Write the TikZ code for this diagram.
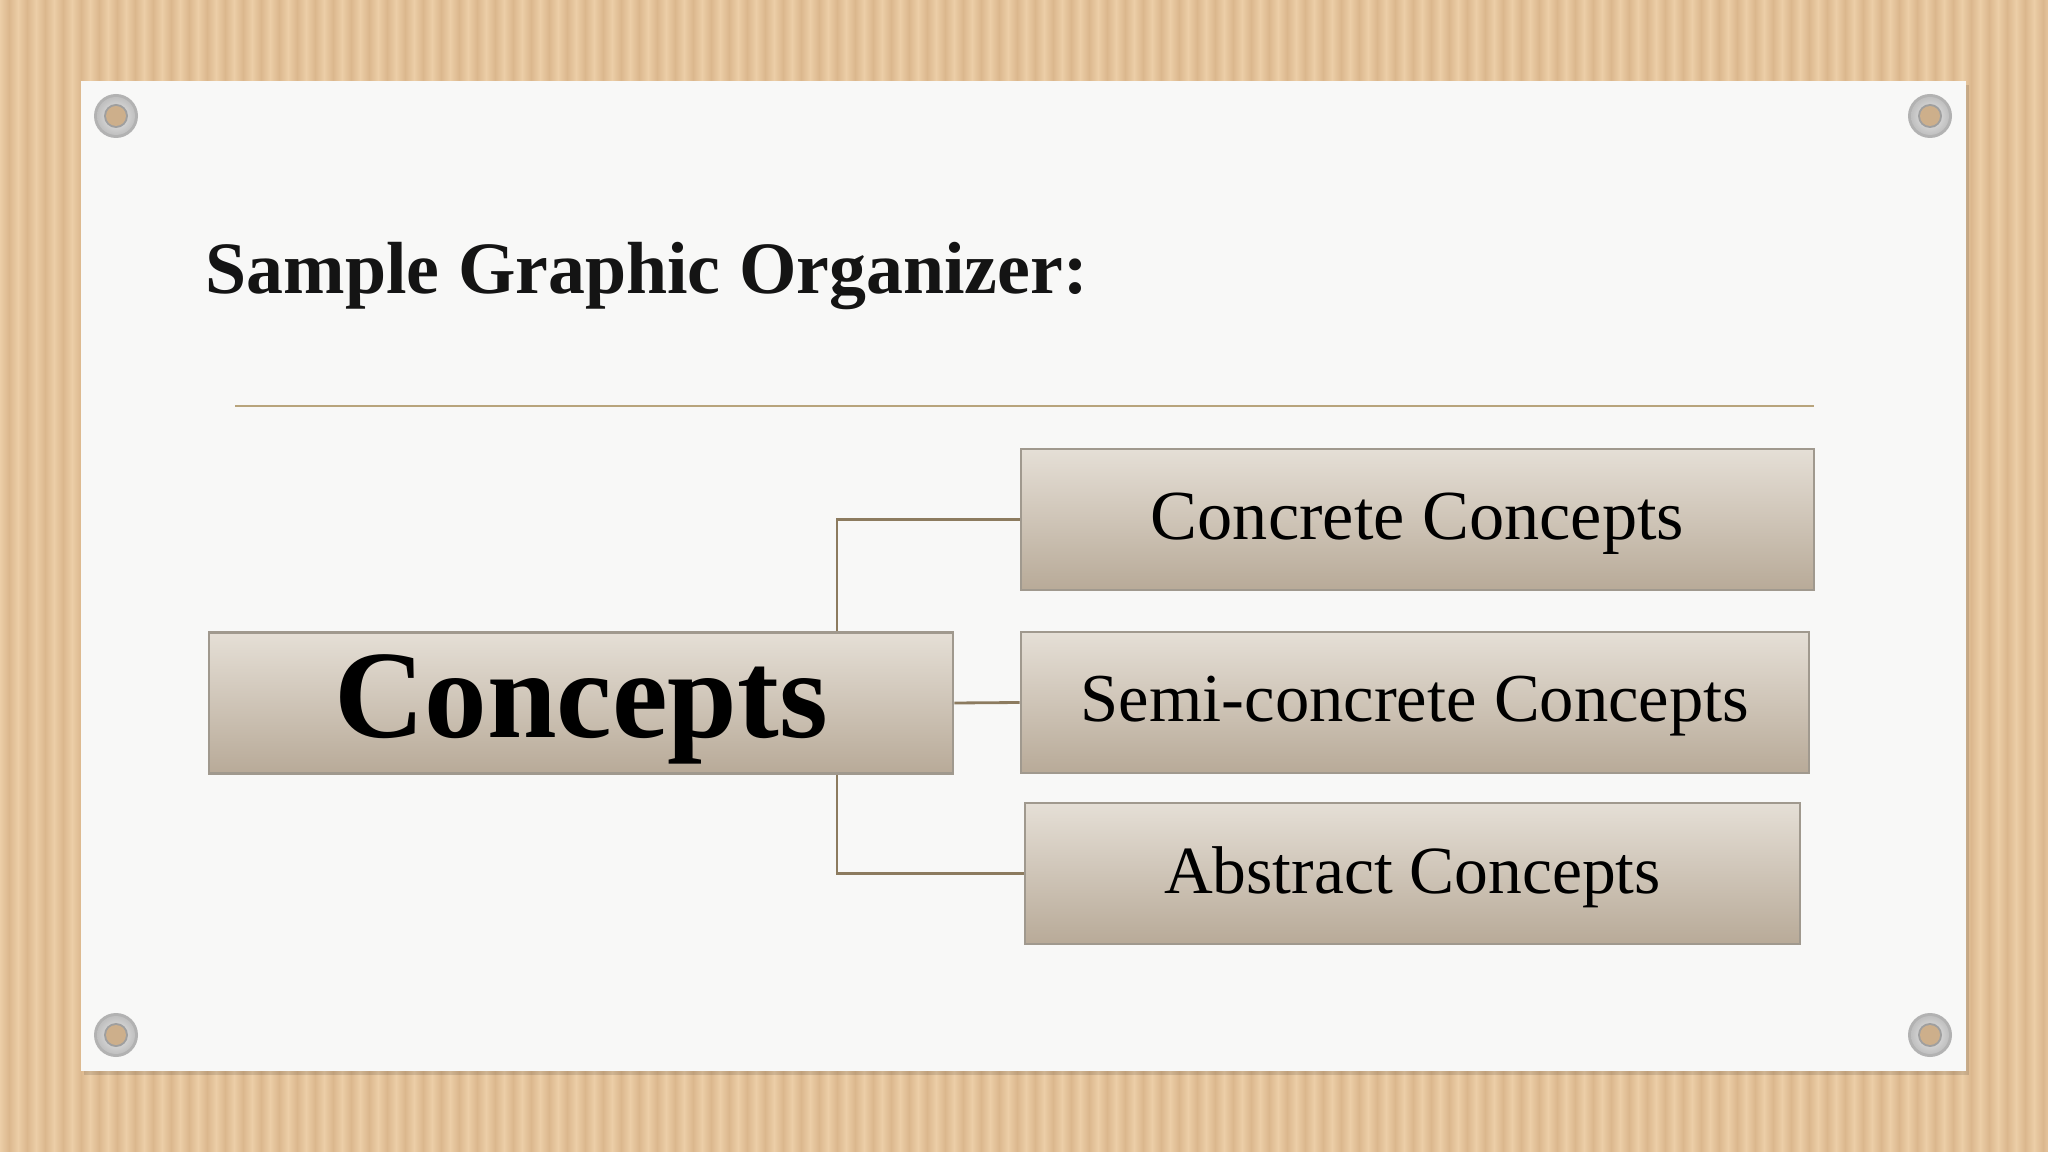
\documentclass[tikz,border=0pt]{standalone}
\usepackage{fontspec}
\setmainfont{Liberation Serif}
\usepackage{tikz}

\definecolor{boardlight}{RGB}{236,206,167}
\definecolor{boarddark}{RGB}{219,183,141}
\definecolor{cardwhite}{RGB}{248,248,247}
\definecolor{boxtop}{RGB}{229,223,214}
\definecolor{boxbottom}{RGB}{184,170,152}
\definecolor{boxedge}{RGB}{160,153,142}
\definecolor{linkbrown}{RGB}{140,123,95}
\definecolor{rulegold}{RGB}{184,164,124}
\definecolor{inktext}{RGB}{20,20,20}

\begin{document}
\begin{tikzpicture}[
x=0.01cm, y=-0.01cm,
rootnode/.style={rectangle, draw=boxedge, top color=boxtop, bottom color=boxbottom, line width=0.6pt, inner sep=0pt, minimum width=7.44cm, minimum height=1.41cm, text depth=4pt, align=center, font=\fontsize{35.6}{40}\selectfont\bfseries},
childnode/.style={rectangle, draw=boxedge, top color=boxtop, bottom color=boxbottom, line width=0.6pt, inner sep=0pt, minimum height=1.41cm, text depth=2pt, align=center, font=\fontsize{20}{24}\selectfont},
titlenode/.style={anchor=base west, inner sep=0pt, text=inktext, font=\fontsize{21}{25}\selectfont\bfseries},
linkline/.style={draw=linkbrown, line width=0.8pt},
grommet/.pic={
  \fill[gray!60] (0,0) circle[radius=22];
  \shade[inner color=gray!15, outer color=gray!50] (0,0) circle[radius=19];
  \fill[gray!75] (0,0) circle[radius=12];
  \fill[boarddark!85!gray] (0,0) circle[radius=10];
}
]
\useasboundingbox (0,0) rectangle (2048,1152);

%Background
\foreach \x in {0,18,...,2048} {
  \shade[left color=boardlight, right color=boarddark] (\x,0) rectangle (\x+9,1152);
  \shade[left color=boarddark, right color=boardlight] (\x+9,0) rectangle (\x+18,1152);
}
\fill[black, opacity=0.12] (84,85) rectangle (1969,1075);
\fill[cardwhite] (81,81) rectangle (1966,1071);

%Grommets
\pic at (116,116) {grommet};
\pic at (1930,116) {grommet};
\pic at (116,1035) {grommet};
\pic at (1930,1035) {grommet};

%Title
\node[titlenode]	(title)		at (205,294)		{Sample Graphic Organizer:};
\draw[rulegold, line width=0.8pt] (235,406) -- (1814,406);

%Nodes
\node[rootnode]		(concepts)	at (581,703)		{Concepts};
\node[childnode, minimum width=7.93cm]	(concrete)	at (1417.5,519.5)	{Concrete Concepts};
\node[childnode, minimum width=7.88cm, font=\fontsize{19.5}{24}\selectfont]	(semi)		at (1415,702.5)		{Semi-concrete Concepts};
\node[childnode, minimum width=7.75cm, font=\fontsize{19.2}{24}\selectfont]	(abstract)	at (1412.5,873.5)	{Abstract Concepts};
\coordinate (trunk) at (837,703);

%Lines
\draw[linkline] (concepts.north -| trunk) |- (concrete.west);
\draw[linkline] (concepts.east) -- (semi.west);
\draw[linkline] (concepts.south -| trunk) |- (abstract.west);
\end{tikzpicture}
\end{document}
